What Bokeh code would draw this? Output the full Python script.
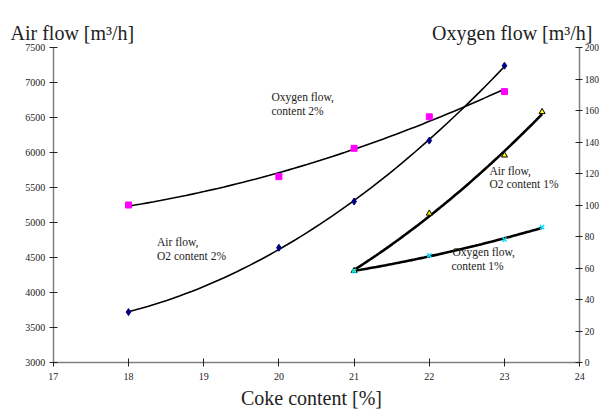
import numpy as np
from bokeh.plotting import figure
from bokeh.models import LinearAxis, Range1d, FixedTicker, Label, ColumnDataSource
from bokeh.embed import file_html
from bokeh.resources import INLINE

# ---- data ----
coke_2 = [18, 20, 21, 22, 23]
air_2 = [3720, 4640, 5300, 6170, 7240]
oxy_2 = [100, 118, 136, 156, 172]

coke_1 = [21, 22, 23, 23.5]
air_1 = [4310, 5130, 5960, 6580]
oxy_1 = [58, 68, 78, 86]

x_ticks = [17, 18, 19, 20, 21, 22, 23, 24]
left_ticks = [3000, 3500, 4000, 4500, 5000, 5500, 6000, 6500, 7000, 7500]
right_ticks = [0, 20, 40, 60, 80, 100, 120, 140, 160, 180, 200]

FONT = "Liberation Serif"

# ---- layout: the frame covers the whole canvas; axes sit at fixed spots ----
W, H = 600, 412
X17_PX, PX_PER_X = 52.8, 75.2          # pixel of x=17, pixels per x unit
Y3000_PX, PX_PER_Y = 362.0, 0.07       # pixel of y=3000, pixels per air unit
AIR_PER_O2 = 4500 / 200                # left units per right unit

x0 = 17 - X17_PX / PX_PER_X
x1 = 17 + (W - X17_PX) / PX_PER_X
y0 = 3000 - (H - Y3000_PX) / PX_PER_Y
y1 = 3000 + Y3000_PX / PX_PER_Y

def px_x(px):
    return 17 + (px - X17_PX) / PX_PER_X

def px_y(py):
    return 3000 + (Y3000_PX - py) / PX_PER_Y

p = figure(width=W, height=H, output_backend="svg", toolbar_location=None,
           x_range=Range1d(x0, x1), y_range=Range1d(y0, y1),
           min_border=0, min_border_left=0, min_border_right=0,
           min_border_top=0, min_border_bottom=0)
p.extra_y_ranges = {"o2": Range1d((y0 - 3000) / AIR_PER_O2, (y1 - 3000) / AIR_PER_O2)}
p.outline_line_color = None
p.xgrid.visible = False
p.ygrid.visible = False
p.background_fill_color = "white"
p.border_fill_color = "white"

right = LinearAxis(y_range_name="o2")
p.add_layout(right, "right")

p.xaxis[0].fixed_location = 3000
p.xaxis[0].bounds = (17, 24)
p.yaxis[0].fixed_location = 17
p.yaxis[0].bounds = (3000, 7500)
right.fixed_location = 24
right.bounds = (0, 200)

p.xaxis[0].ticker = FixedTicker(ticks=x_ticks)
p.yaxis[0].ticker = FixedTicker(ticks=left_ticks)
right.ticker = FixedTicker(ticks=right_ticks)

for ax in [p.xaxis[0], p.yaxis[0], right]:
    ax.axis_line_color = "#7f7f7f"
    ax.axis_line_width = 1.5
    ax.major_tick_line_color = "#222222"
    ax.major_tick_in = 4
    ax.major_tick_out = 4
    ax.minor_tick_line_color = None
    ax.major_label_text_font = FONT
    ax.major_label_text_font_size = "10px"
    ax.major_label_text_color = "#222222"
    ax.major_label_standoff = 4
p.xaxis[0].major_label_standoff = 6
right.major_tick_out = 3
right.major_label_standoff = 2
right.major_label_text_font_size = "9.5px"

# ---- trend lines (quadratic fits of the data) ----
def trend(xs, ys):
    c = np.polyfit(xs, ys, 2)
    xx = np.linspace(min(xs), max(xs), 60)
    return xx, np.polyval(c, xx)

xx, yy = trend(coke_2, air_2)
p.line(xx, yy, line_color="black", line_width=1.6)
xx, yy = trend(coke_2, oxy_2)
p.line(xx, yy, line_color="black", line_width=1.6, y_range_name="o2")
xx, yy = trend(coke_1, air_1)
p.line(xx, yy, line_color="black", line_width=2.6)
xx, yy = trend(coke_1, oxy_1)
p.line(xx, yy, line_color="black", line_width=2.6, y_range_name="o2")

# ---- markers ----
src2 = ColumnDataSource(dict(x=coke_2, air=air_2, oxy=oxy_2))
src1 = ColumnDataSource(dict(x=coke_1, air=air_1, oxy=oxy_1))
p.scatter("x", "air", source=src2, marker="diamond", size=7,
          fill_color="#000080", line_color="#000080")
p.scatter("x", "oxy", source=src2, marker="square", size=6,
          fill_color="#ff00ff", line_color="#ff00ff", y_range_name="o2")
p.scatter("x", "air", source=src1, marker="triangle", size=6,
          fill_color="#ffff00", line_color="black", line_width=1)
p.scatter("x", "oxy", source=src1, marker="x", size=6,
          line_color="#00e5ff", line_width=1.5, y_range_name="o2")

# ---- texts ----
def note(px, py, t, size="11.5px", align="left", baseline="middle"):
    p.add_layout(Label(x=px_x(px), y=px_y(py), text=t, text_font=FONT,
                       text_font_size=size, text_color="#222222",
                       text_align=align, text_baseline=baseline))

note(271, 96, "Oxygen flow,")
note(271, 110, "content  2%")
note(156.5, 241.7, "Air flow,")
note(156.5, 255.7, " O2 content 2%")
note(489, 170, "Air flow,")
note(489, 183.5, "O2 content 1%")
note(452, 251.7, "Oxygen flow,")
note(451, 265, "content  1%")

note(10, 32, "Air flow [m³/h]", size="20px", baseline="alphabetic")
note(592, 32, "Oxygen flow [m³/h]", size="20px", align="right",
     baseline="alphabetic")
note(311, 397, "Coke content [%]", size="20px", align="center")

open("out.html", "w").write(file_html(p, INLINE))
